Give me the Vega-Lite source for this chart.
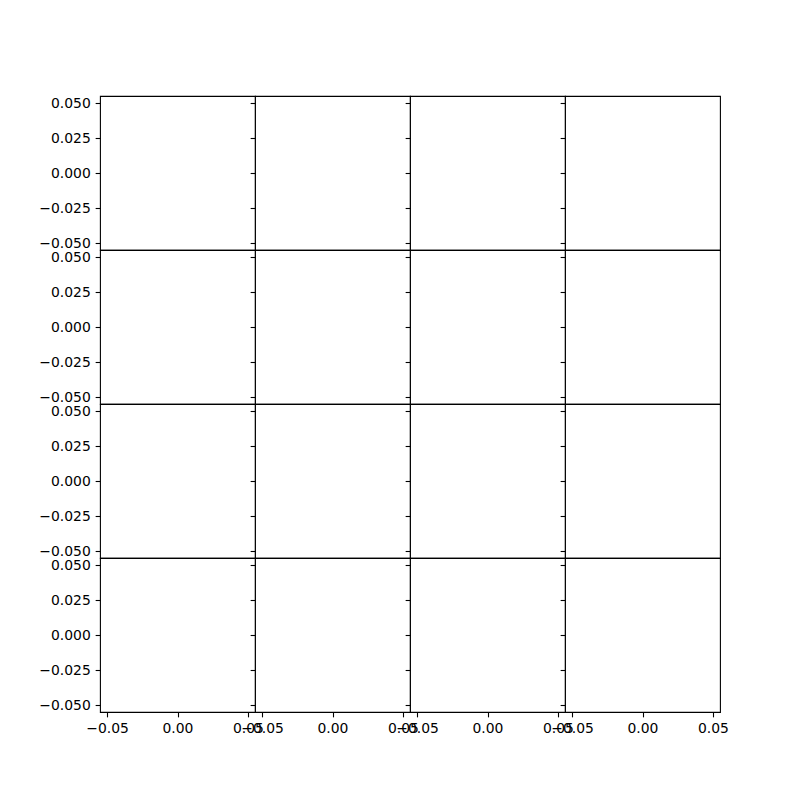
{
  "$schema": "https://vega.github.io/schema/vega-lite/v6.json",
  "background": "white",
  "padding": {"left": 38, "top": 95, "right": 5, "bottom": 5},
  "autosize": {"type": "pad"},
  "data": {"values": [
    {"r": 1, "c": 1, "x": 0, "y": 0}, {"r": 1, "c": 2, "x": 0, "y": 0}, {"r": 1, "c": 3, "x": 0, "y": 0}, {"r": 1, "c": 4, "x": 0, "y": 0},
    {"r": 2, "c": 1, "x": 0, "y": 0}, {"r": 2, "c": 2, "x": 0, "y": 0}, {"r": 2, "c": 3, "x": 0, "y": 0}, {"r": 2, "c": 4, "x": 0, "y": 0},
    {"r": 3, "c": 1, "x": 0, "y": 0}, {"r": 3, "c": 2, "x": 0, "y": 0}, {"r": 3, "c": 3, "x": 0, "y": 0}, {"r": 3, "c": 4, "x": 0, "y": 0},
    {"r": 4, "c": 1, "x": 0, "y": 0}, {"r": 4, "c": 2, "x": 0, "y": 0}, {"r": 4, "c": 3, "x": 0, "y": 0}, {"r": 4, "c": 4, "x": 0, "y": 0}
  ]},
  "columns": 4,
  "spacing": 0,
  "bounds": "flush",
  "concat": [
      {"width": 155, "height": 154, "transform": [{"filter": "datum.r==1 && datum.c==1"}], "mark": {"type": "point", "opacity": 0},
       "encoding": {"x": {"field": "x", "type": "quantitative", "scale": {"domain": [-0.055, 0.055], "nice": false, "zero": false}, "axis": null},
                    "y": {"field": "y", "type": "quantitative", "scale": {"domain": [-0.055, 0.055], "nice": false, "zero": false}, "axis": {"values": [-0.05, -0.025, 0, 0.025, 0.05], "format": ".3f"}}}},
      {"width": 155, "height": 154, "transform": [{"filter": "datum.r==1 && datum.c==2"}], "mark": {"type": "point", "opacity": 0},
       "encoding": {"x": {"field": "x", "type": "quantitative", "scale": {"domain": [-0.055, 0.055], "nice": false, "zero": false}, "axis": null},
                    "y": {"field": "y", "type": "quantitative", "scale": {"domain": [-0.055, 0.055], "nice": false, "zero": false}, "axis": {"values": [-0.05, -0.025, 0, 0.025, 0.05], "labels": false}}}},
      {"width": 155, "height": 154, "transform": [{"filter": "datum.r==1 && datum.c==3"}], "mark": {"type": "point", "opacity": 0},
       "encoding": {"x": {"field": "x", "type": "quantitative", "scale": {"domain": [-0.055, 0.055], "nice": false, "zero": false}, "axis": null},
                    "y": {"field": "y", "type": "quantitative", "scale": {"domain": [-0.055, 0.055], "nice": false, "zero": false}, "axis": {"values": [-0.05, -0.025, 0, 0.025, 0.05], "labels": false}}}},
      {"width": 155, "height": 154, "transform": [{"filter": "datum.r==1 && datum.c==4"}], "mark": {"type": "point", "opacity": 0},
       "encoding": {"x": {"field": "x", "type": "quantitative", "scale": {"domain": [-0.055, 0.055], "nice": false, "zero": false}, "axis": null},
                    "y": {"field": "y", "type": "quantitative", "scale": {"domain": [-0.055, 0.055], "nice": false, "zero": false}, "axis": {"values": [-0.05, -0.025, 0, 0.025, 0.05], "labels": false}}}},
      {"width": 155, "height": 154, "transform": [{"filter": "datum.r==2 && datum.c==1"}], "mark": {"type": "point", "opacity": 0},
       "encoding": {"x": {"field": "x", "type": "quantitative", "scale": {"domain": [-0.055, 0.055], "nice": false, "zero": false}, "axis": null},
                    "y": {"field": "y", "type": "quantitative", "scale": {"domain": [-0.055, 0.055], "nice": false, "zero": false}, "axis": {"values": [-0.05, -0.025, 0, 0.025, 0.05], "format": ".3f"}}}},
      {"width": 155, "height": 154, "transform": [{"filter": "datum.r==2 && datum.c==2"}], "mark": {"type": "point", "opacity": 0},
       "encoding": {"x": {"field": "x", "type": "quantitative", "scale": {"domain": [-0.055, 0.055], "nice": false, "zero": false}, "axis": null},
                    "y": {"field": "y", "type": "quantitative", "scale": {"domain": [-0.055, 0.055], "nice": false, "zero": false}, "axis": {"values": [-0.05, -0.025, 0, 0.025, 0.05], "labels": false}}}},
      {"width": 155, "height": 154, "transform": [{"filter": "datum.r==2 && datum.c==3"}], "mark": {"type": "point", "opacity": 0},
       "encoding": {"x": {"field": "x", "type": "quantitative", "scale": {"domain": [-0.055, 0.055], "nice": false, "zero": false}, "axis": null},
                    "y": {"field": "y", "type": "quantitative", "scale": {"domain": [-0.055, 0.055], "nice": false, "zero": false}, "axis": {"values": [-0.05, -0.025, 0, 0.025, 0.05], "labels": false}}}},
      {"width": 155, "height": 154, "transform": [{"filter": "datum.r==2 && datum.c==4"}], "mark": {"type": "point", "opacity": 0},
       "encoding": {"x": {"field": "x", "type": "quantitative", "scale": {"domain": [-0.055, 0.055], "nice": false, "zero": false}, "axis": null},
                    "y": {"field": "y", "type": "quantitative", "scale": {"domain": [-0.055, 0.055], "nice": false, "zero": false}, "axis": {"values": [-0.05, -0.025, 0, 0.025, 0.05], "labels": false}}}},
      {"width": 155, "height": 154, "transform": [{"filter": "datum.r==3 && datum.c==1"}], "mark": {"type": "point", "opacity": 0},
       "encoding": {"x": {"field": "x", "type": "quantitative", "scale": {"domain": [-0.055, 0.055], "nice": false, "zero": false}, "axis": null},
                    "y": {"field": "y", "type": "quantitative", "scale": {"domain": [-0.055, 0.055], "nice": false, "zero": false}, "axis": {"values": [-0.05, -0.025, 0, 0.025, 0.05], "format": ".3f"}}}},
      {"width": 155, "height": 154, "transform": [{"filter": "datum.r==3 && datum.c==2"}], "mark": {"type": "point", "opacity": 0},
       "encoding": {"x": {"field": "x", "type": "quantitative", "scale": {"domain": [-0.055, 0.055], "nice": false, "zero": false}, "axis": null},
                    "y": {"field": "y", "type": "quantitative", "scale": {"domain": [-0.055, 0.055], "nice": false, "zero": false}, "axis": {"values": [-0.05, -0.025, 0, 0.025, 0.05], "labels": false}}}},
      {"width": 155, "height": 154, "transform": [{"filter": "datum.r==3 && datum.c==3"}], "mark": {"type": "point", "opacity": 0},
       "encoding": {"x": {"field": "x", "type": "quantitative", "scale": {"domain": [-0.055, 0.055], "nice": false, "zero": false}, "axis": null},
                    "y": {"field": "y", "type": "quantitative", "scale": {"domain": [-0.055, 0.055], "nice": false, "zero": false}, "axis": {"values": [-0.05, -0.025, 0, 0.025, 0.05], "labels": false}}}},
      {"width": 155, "height": 154, "transform": [{"filter": "datum.r==3 && datum.c==4"}], "mark": {"type": "point", "opacity": 0},
       "encoding": {"x": {"field": "x", "type": "quantitative", "scale": {"domain": [-0.055, 0.055], "nice": false, "zero": false}, "axis": null},
                    "y": {"field": "y", "type": "quantitative", "scale": {"domain": [-0.055, 0.055], "nice": false, "zero": false}, "axis": {"values": [-0.05, -0.025, 0, 0.025, 0.05], "labels": false}}}},
      {"width": 155, "height": 154, "transform": [{"filter": "datum.r==4 && datum.c==1"}], "mark": {"type": "point", "opacity": 0},
       "encoding": {"x": {"field": "x", "type": "quantitative", "scale": {"domain": [-0.055, 0.055], "nice": false, "zero": false}, "axis": {"values": [-0.05, 0, 0.05], "format": ".2f"}},
                    "y": {"field": "y", "type": "quantitative", "scale": {"domain": [-0.055, 0.055], "nice": false, "zero": false}, "axis": {"values": [-0.05, -0.025, 0, 0.025, 0.05], "format": ".3f"}}}},
      {"width": 155, "height": 154, "transform": [{"filter": "datum.r==4 && datum.c==2"}], "mark": {"type": "point", "opacity": 0},
       "encoding": {"x": {"field": "x", "type": "quantitative", "scale": {"domain": [-0.055, 0.055], "nice": false, "zero": false}, "axis": {"values": [-0.05, 0, 0.05], "format": ".2f"}},
                    "y": {"field": "y", "type": "quantitative", "scale": {"domain": [-0.055, 0.055], "nice": false, "zero": false}, "axis": {"values": [-0.05, -0.025, 0, 0.025, 0.05], "labels": false}}}},
      {"width": 155, "height": 154, "transform": [{"filter": "datum.r==4 && datum.c==3"}], "mark": {"type": "point", "opacity": 0},
       "encoding": {"x": {"field": "x", "type": "quantitative", "scale": {"domain": [-0.055, 0.055], "nice": false, "zero": false}, "axis": {"values": [-0.05, 0, 0.05], "format": ".2f"}},
                    "y": {"field": "y", "type": "quantitative", "scale": {"domain": [-0.055, 0.055], "nice": false, "zero": false}, "axis": {"values": [-0.05, -0.025, 0, 0.025, 0.05], "labels": false}}}},
      {"width": 155, "height": 154, "transform": [{"filter": "datum.r==4 && datum.c==4"}], "mark": {"type": "point", "opacity": 0},
       "encoding": {"x": {"field": "x", "type": "quantitative", "scale": {"domain": [-0.055, 0.055], "nice": false, "zero": false}, "axis": {"values": [-0.05, 0, 0.05], "format": ".2f"}},
                    "y": {"field": "y", "type": "quantitative", "scale": {"domain": [-0.055, 0.055], "nice": false, "zero": false}, "axis": {"values": [-0.05, -0.025, 0, 0.025, 0.05], "labels": false}}}}
  ],
  "config": {
    "view": {"stroke": "black", "strokeWidth": 1.1, "fill": "white"},
    "axis": {
      "domain": false, "grid": false, "ticks": true, "tickColor": "black", "tickSize": 4.86, "tickWidth": 1.1,
      "labelColor": "black", "labelFont": "DejaVu Sans", "labelFontSize": 13.9, "labelPadding": 4.86,
      "labelFlush": false, "labelOverlap": false, "title": null
    }
  }
}
